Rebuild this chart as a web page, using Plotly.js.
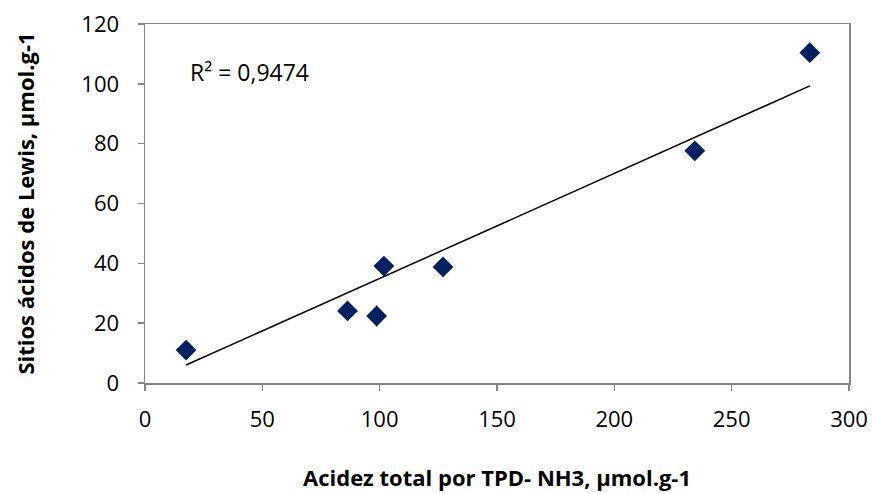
<!DOCTYPE html>
<html>
<head>
<meta charset="utf-8">
<script src="https://cdn.plot.ly/plotly-3.0.1.min.js"></script>
<style>html,body{margin:0;padding:0;background:#fff}#chart{width:872px;height:494px}</style>
</head>
<body>
<div id="chart"></div>
<script>
const acidezTotal = [17.5, 86.3, 98.7, 101.8, 127.0, 234.3, 283.3];
const sitiosLewis = [11.0, 24.1, 22.4, 39.1, 38.8, 77.6, 110.4];
const trendX = [17.5, 283.3];
const trendY = [6.0, 99.3];
const r2Label = 'R² = 0,9474';
const xTitle = 'Acidez total por TPD- NH3, µmol.g-1';
const yTitle = 'Sitios ácidos de Lewis, µmol.g-1';

const font = '"Open Sans", sans-serif';
const data = [
  {x: trendX, y: trendY, mode: 'lines', type: 'scatter',
   line: {color: '#000000', width: 1.5}, hoverinfo: 'skip', showlegend: false},
  {x: acidezTotal, y: sitiosLewis, mode: 'markers', type: 'scatter',
   marker: {symbol: 'diamond', size: 16, color: '#002060'}, showlegend: false}
];
const axisCommon = {
  showline: true, mirror: true, linecolor: '#868686', linewidth: 1.5,
  ticks: 'outside', ticklen: 6, tickcolor: '#868686', tickwidth: 1.5,
  showgrid: false, zeroline: false,
  tickfont: {family: font, size: 22, color: '#000'}
};
const layout = {
  width: 872, height: 494,
  margin: {l: 145, r: 23, t: 24, b: 111},
  paper_bgcolor: '#fff', plot_bgcolor: '#fff',
  xaxis: Object.assign({}, axisCommon, {
    range: [0, 300], dtick: 50, ticklabelstandoff: 10,
    title: {text: xTitle, font: {family: font, size: 22, color: '#000', weight: 'bold'}, standoff: 38}
  }),
  yaxis: Object.assign({}, axisCommon, {
    range: [0, 120], dtick: 20, ticklabelstandoff: 14,
    title: {text: yTitle, font: {family: font, size: 22, color: '#000', weight: 'bold'}, standoff: 40}
  }),
  annotations: [{
    x: 18.3, y: 104, xref: 'x', yref: 'y', xanchor: 'left', yanchor: 'middle',
    text: r2Label, showarrow: false, font: {family: font, size: 23, color: '#000'}
  }]
};
Plotly.newPlot('chart', data, layout, {displayModeBar: false, staticPlot: true});
</script>
</body>
</html>
